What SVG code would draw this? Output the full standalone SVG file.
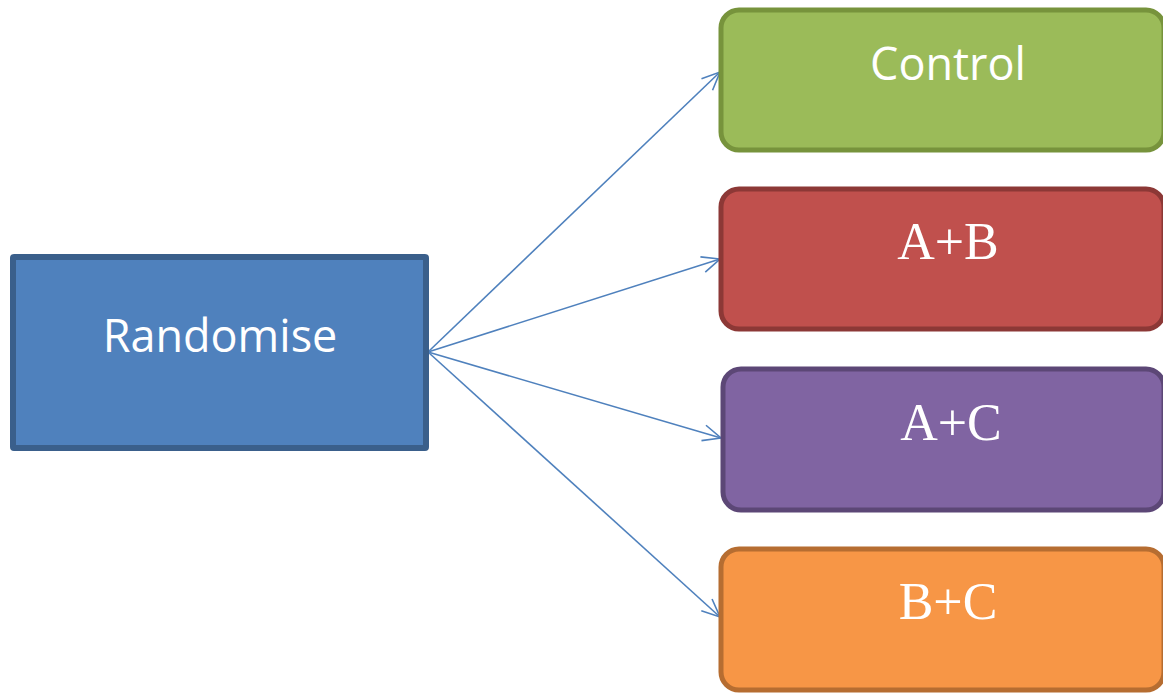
<svg xmlns="http://www.w3.org/2000/svg" width="1163" height="695" viewBox="0 0 1163 695">
<defs>
<marker id="arr" viewBox="0 0 20 20" refX="19" refY="10" markerWidth="20" markerHeight="20" markerUnits="userSpaceOnUse" orient="auto">
<path d="M1,2 L19,10 L1,18" fill="none" stroke="#4f81bd" stroke-width="1.6"/>
</marker>
<style>
.sans{font-family:"Open Sans","Liberation Sans",sans-serif;fill:#fff;text-anchor:middle}
.serif{font-family:"Liberation Serif","Times New Roman",serif;fill:#fff;text-anchor:middle}
.box{stroke-width:5}
.conn{fill:none;stroke:#4f81bd;stroke-width:1.6;marker-end:url(#arr)}
</style>
</defs>
<rect width="1163" height="695" fill="#fff"/>
<g id="connectors">
<line class="conn" x1="428" y1="352" x2="720" y2="72"/>
<line class="conn" x1="428" y1="352" x2="720" y2="259"/>
<line class="conn" x1="428" y1="352" x2="721" y2="438"/>
<line class="conn" x1="428" y1="352" x2="720" y2="617"/>
</g>
<g id="randomise">
<rect x="13" y="257" width="413" height="191" fill="#4f81bd" stroke="#3a5f8b" stroke-width="6" rx="1"/>
<text class="sans" x="220" y="352" font-size="45">Randomise</text>
</g>
<g id="control">
<rect class="box" x="721" y="10" width="443" height="140" rx="18" fill="#9bbb59" stroke="#77933c"/>
<text class="sans" x="948" y="80" font-size="45">Control</text>
</g>
<g id="ab">
<rect class="box" x="721" y="189" width="443" height="140" rx="18" fill="#c0504d" stroke="#8c3836"/>
<text class="serif" x="948" y="259" font-size="52">A+B</text>
</g>
<g id="ac">
<rect class="box" x="723" y="369" width="441" height="141" rx="18" fill="#8064a2" stroke="#5c4776"/>
<text class="serif" x="951" y="440" font-size="52">A+C</text>
</g>
<g id="bc">
<rect class="box" x="721" y="549" width="443" height="141" rx="18" fill="#f79646" stroke="#b66d31"/>
<text class="serif" x="948" y="619" font-size="52">B+C</text>
</g>
</svg>
